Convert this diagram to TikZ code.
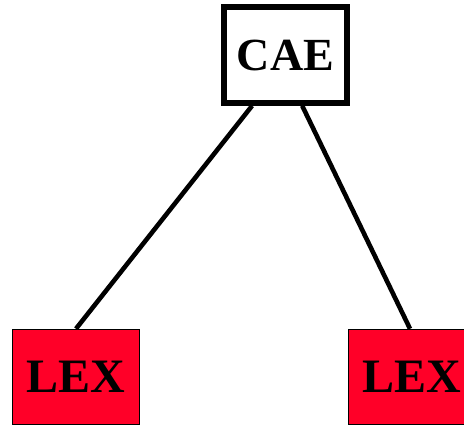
\documentclass[tikz,border=0pt]{standalone}
\usepackage{fontspec}
\setmainfont{Liberation Serif}
\usetikzlibrary{calc,backgrounds}
\definecolor{lexred}{RGB}{255,0,40}
\tikzset{
  catbox/.style={draw=black, line width=5.5pt, fill=white, rectangle,
    minimum width=123pt, minimum height=96pt, inner sep=0pt,
    font=\fontsize{46}{46}\selectfont\bfseries},
  lexbox/.style={draw=black, line width=1.5pt, fill=lexred, rectangle,
    minimum width=127pt, minimum height=95pt, inner sep=0pt,
    font=\fontsize{48}{48}\selectfont\bfseries},
  branch/.style={draw=black, line width=4.6pt}
}
\begin{document}
\begin{tikzpicture}[x=1pt,y=-1pt]
  \useasboundingbox (0,0) rectangle (464,426);
  \clip (0,0) rectangle (464,426);
  \node[catbox] (cae) at (285.5,55) {CAE};
  \node[lexbox] (lexl) at (76,377) {LEX};
  \node[lexbox] (lexr) at (412,377) {LEX};
  \begin{scope}[on background layer]
    \draw[branch] ($(cae.south west)!0.24!(cae.south east)$) -- (lexl.north);
    \draw[branch] ($(cae.south west)!0.63!(cae.south east)$) -- ($(lexr.north)+(-2,0)$);
  \end{scope}
\end{tikzpicture}
\end{document}
